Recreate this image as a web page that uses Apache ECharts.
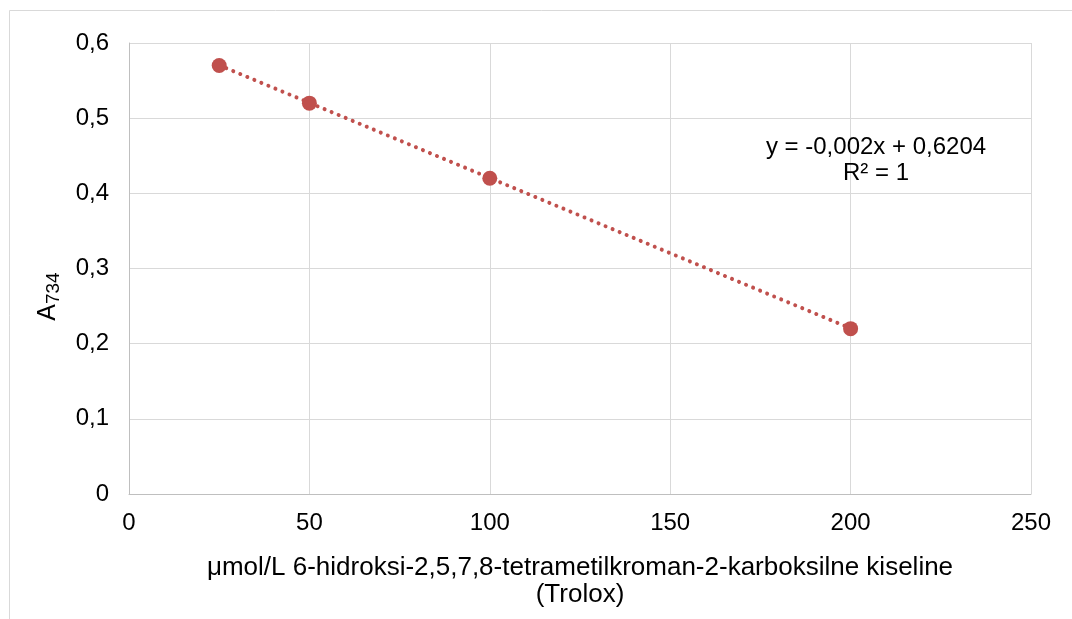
<!DOCTYPE html>
<html><head><meta charset="utf-8">
<script src="https://cdn.jsdelivr.net/npm/echarts@6/dist/echarts.min.js"></script>
<style>html,body{margin:0;padding:0;background:#fff}#c{width:1072px;height:619px}</style>
</head><body><div id="c"></div>
<script>
const concentrations = [25, 50, 100, 200];
const absorbance = [0.57, 0.52, 0.42, 0.22];
const trendSlope = -0.002;
const trendIntercept = 0.6204;
const xTicks = [0, 50, 100, 150, 200, 250];
const yTicks = [0, 0.1, 0.2, 0.3, 0.4, 0.5, 0.6];
const equationLines = ['y = -0,002x + 0,6204', 'R² = 1'];

const chart = echarts.init(document.getElementById('c'), null, {renderer: 'canvas'});
const points = concentrations.map((x, i) => [x, absorbance[i]]);
const xs = [concentrations[0], concentrations[concentrations.length - 1]];
const trend = xs.map(x => [x, trendSlope * x + trendIntercept]);
const font = 'Liberation Sans, Arial, sans-serif';

chart.setOption({
  animation: false,
  backgroundColor: '#fff',
  grid: {left: 129, right: 41, top: 43, bottom: 125, show: false},
  xAxis: {
    type: 'value', min: xTicks[0], max: xTicks[xTicks.length - 1], interval: xTicks[1] - xTicks[0],
    axisLine: {show: true, lineStyle: {color: '#bfbfbf', width: 1}},
    axisTick: {show: false},
    splitLine: {show: true, lineStyle: {color: '#d9d9d9', width: 1}},
    axisLabel: {color: '#000', fontSize: 24, fontFamily: font, margin: 17,
      formatter: v => String(v)},
    name: 'μmol/L 6-hidroksi-2,5,7,8-tetrametilkroman-2-karboksilne kiseline\n(Trolox)',
    nameLocation: 'middle', nameGap: 60,
    nameTextStyle: {color: '#000', fontSize: 26, fontFamily: font, lineHeight: 27}
  },
  yAxis: {
    type: 'value', min: yTicks[0], max: yTicks[yTicks.length - 1], interval: 0.1,
    axisLine: {show: true, lineStyle: {color: '#bfbfbf', width: 1}},
    axisTick: {show: false},
    splitLine: {show: true, lineStyle: {color: '#d9d9d9', width: 1}},
    axisLabel: {color: '#000', fontSize: 24, fontFamily: font, margin: 20,
      formatter: v => (Math.round(v * 10) / 10).toString().replace('.', ',')},
    name: '{a|A}{s|734}',
    nameLocation: 'middle', nameGap: 66, nameRotate: 90,
    nameTextStyle: {padding: [0, 56, 0, 0], rich: {
      a: {fontSize: 25, fontFamily: font, color: '#000'},
      s: {fontSize: 19, fontFamily: font, color: '#000', verticalAlign: 'bottom', padding: [10, 0, 0, 0]}
    }}
  },
  series: [
    {
      type: 'line', data: trend, symbol: 'none', silent: true,
      lineStyle: {color: '#c0504d', width: 4, type: [0.01, 7.6], cap: 'round'}, z: 2
    },
    {
      type: 'scatter', data: points, symbol: 'circle', symbolSize: 15,
      itemStyle: {color: '#c0504d', opacity: 1}, z: 3
    }
  ],
  graphic: [
    {type: 'rect', shape: {x: 9.5, y: 10.5, width: 1100, height: 700},
     style: {fill: 'none', stroke: '#d9d9d9', lineWidth: 1}, silent: true, z: -10},
    {type: 'text', x: 876, y: 134, z: 10,
     style: {text: equationLines.join('\n'), fill: '#000', font: '24px ' + font, align: 'center', verticalAlign: 'top', lineHeight: 26}}
  ]
});
</script></body></html>
